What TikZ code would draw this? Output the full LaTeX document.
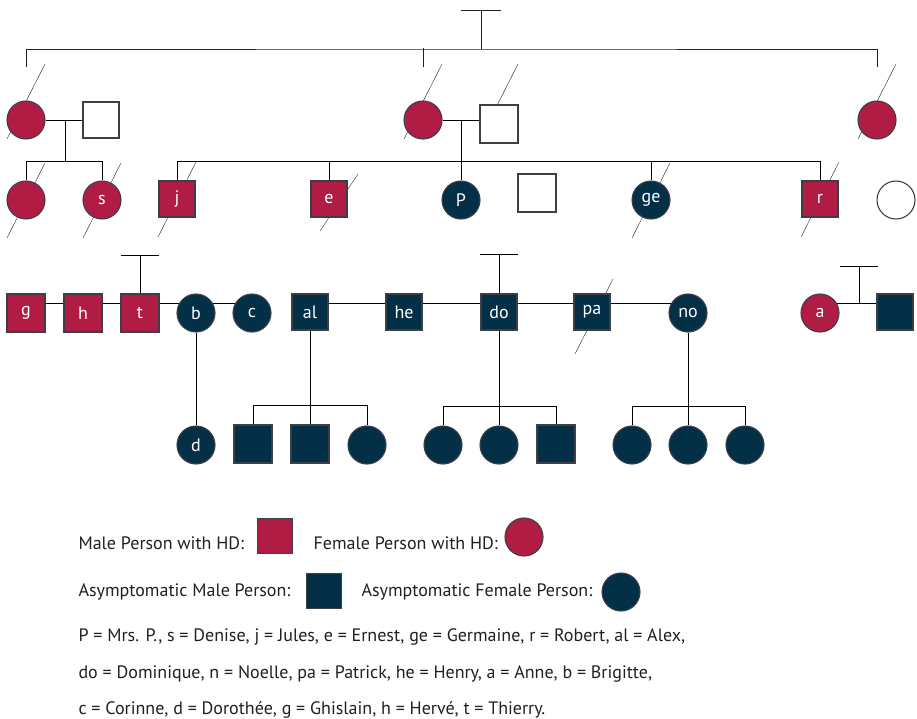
\documentclass[tikz,border=0pt]{standalone}
\usepackage{fontspec}
\setmainfont{PT Sans}
\usepackage{tikz}
\usepackage{xcolor}
\usetikzlibrary{backgrounds}
\definecolor{hdred}{RGB}{176,28,68}
\definecolor{nodark}{RGB}{3,48,71}
\definecolor{kin}{RGB}{60,64,70}
\definecolor{ink}{RGB}{35,31,32}

\begin{document}
\begin{tikzpicture}
	[x=1pt, y=-1pt, line width=1.1pt, draw=kin, font=\fontsize{18}{21}\selectfont,
	 male/.style = {draw, rectangle, minimum size=36pt, inner sep=0pt, text=white},
	 female/.style = {draw, circle, minimum size=38pt, inner sep=0pt, text=white},
	 hd/.style = {fill=hdred},
	 ok/.style = {fill=nodark},
	 blank/.style = {fill=white},
	 legend/.style = {anchor=west, text=ink, inner sep=0pt}]
	\useasboundingbox (0,0) rectangle (917,718);
	% generation I
	\node[female, hd] (gmL) at (26,120) {};
	\node[male, blank] (gfL) at (101,120) {};
	\node[female, hd] (gmM) at (423,120) {};
	\node[male, blank, minimum size=38pt] (gfM) at (499,124) {};
	\node[female, hd] (gmR) at (877,120) {};
	% generation II
	\node[female, hd] (c1) at (26,200) {};
	\node[female, hd] (s) at (102,200) {s};
	\node[male, hd] (j) at (177,199) {j};
	\node[male, hd] (e) at (329,199) {e};
	\node[female, ok] (P) at (461,200) {P};
	\node[male, blank, minimum size=38pt] (sp) at (537,193) {};
	\node[female, ok] (ge) at (651,200) {ge};
	\node[male, hd] (r) at (820,199) {r};
	\node[female, blank] (wr) at (896,200) {};
	% generation III
	\node[male, hd, minimum size=38pt] (g) at (26,313) {g};
	\node[male, hd, minimum size=38pt] (h) at (83,313) {h};
	\node[male, hd, minimum size=38pt] (t) at (140,313) {t};
	\node[female, ok] (b) at (196,313) {b};
	\node[female, ok] (c) at (252,313) {c};
	\node[male, ok] (al) at (310,312) {al};
	\node[male, ok] (he) at (404,312) {he};
	\node[male, ok] (do) at (499,312) {do};
	\node[male, ok] (pa) at (592,312) {pa};
	\node[female, ok] (no) at (688,313) {no};
	\node[female, hd] (a) at (820,313) {a};
	\node[male, ok] (ah) at (895,312) {};
	% generation IV
	\node[female, ok] (d) at (196,445) {d};
	\node[male, ok, minimum size=38pt] (k1) at (253,444) {};
	\node[male, ok, minimum size=38pt] (k2) at (310,444) {};
	\node[female, ok] (k3) at (367,445) {};
	\node[female, ok] (k4) at (443,445) {};
	\node[female, ok] (k5) at (499,445) {};
	\node[male, ok, minimum size=38pt] (k6) at (556,444) {};
	\node[female, ok] (k7) at (632,445) {};
	\node[female, ok] (k8) at (688,445) {};
	\node[female, ok] (k9) at (745,445) {};
	% legend
	\node[legend] (lmale) at (78,543) {Male Person with HD:};
	\node[male, hd, minimum size=35pt] (kmale) at (275,536) {};
	\node[legend] (lfem) at (313,543) {Female Person with HD:};
	\node[female, hd] (kfem) at (524,537) {};
	\node[legend] (amale) at (78,592) {Asymptomatic Male Person:};
	\node[male, ok, minimum size=35pt] (kamale) at (324,591) {};
	\node[legend] (afem) at (361,592) {Asymptomatic Female Person:};
	\node[female, ok] (kafem) at (621,592) {};
	\node[legend] (names1) at (78,637) {P = Mrs. P., s = Denise, j = Jules, e = Ernest, ge = Germaine, r = Robert, al = Alex,};
	\node[legend] (names2) at (78,674) {do = Dominique, n = Noelle, pa = Patrick, he = Henry, a = Anne, b = Brigitte,};
	\node[legend] (names3) at (78,710) {c = Corinne, d = Dorothée, g = Ghislain, h = Hervé, t = Thierry.};

	\begin{pgfonlayer}{background}
	% founders
	\coordinate (top) at (481,10);
	\draw[ink] ([xshift=-20pt]top) -- ([xshift=20pt]top);
	\draw[ink] (top) -- ++(0,39) coordinate (fl);
	\draw[ink] ([yshift=33pt]gmL.north) |- (fl) -| ([yshift=33pt]gmR.north);
	\draw[ink] ([yshift=33pt]gmM.north) -- ++(0,-19);
	% couples and children
	\draw (gmL) -- (gfL) coordinate[pos=0.52] (mL);
	\draw (mL) -- ++(0,42);
	\draw (c1.north) -- ++(0,-19) -| (s.north);
	\draw (gmM) -- (gfM.west |- gmM) coordinate[pos=0.5] (mM);
	\draw (mM) -- (P);
	\draw (j.north) -- ++(0,-19) -| (r.north);
	\draw (e.north) -- ++(0,-19);
	\draw (ge.north) -- ++(0,-19);
	\draw ([yshift=10pt]g.center) -- ([yshift=10pt]c.center);
	\draw ([yshift=9pt]al.center) -- ([yshift=10pt]no.center);
	\draw ([yshift=10pt]a.center) -- coordinate[pos=0.52] (aT) ([yshift=9pt]ah.center);
	\draw (t.north) -- ++(0,-38) coordinate (tT);
	\draw ([xshift=-19pt]tT) -- ([xshift=19pt]tT);
	\draw (do.north) -- ++(0,-39) coordinate (doT);
	\draw ([xshift=-19pt]doT) -- ([xshift=19pt]doT);
	\draw (aT) -- ++(0,-37) coordinate (aTop);
	\draw ([xshift=-19pt]aTop) -- ([xshift=19pt]aTop);
	\draw (b) -- (d);
	\draw (al) -- (k2);
	\draw (k1.north) -- ++(0,-19) -| (k3.north);
	\draw (do) -- (k5);
	\draw (k4.north) -- ++(0,-19) -| (k6.north);
	\draw (no) -- (k8);
	\draw (k7.north) -- ++(0,-19) -| (k9.north);
	% deceased
	\foreach \n in {gmL, gmM, gmR}
		\draw[ink] ([shift={(19,-56)}]\n.center) -- ([shift={(-19,19)}]\n.center);
	\draw[ink] ([shift={(19,-60)}]gfM.center) -- ([shift={(-15,7)}]gfM.center);
	\foreach \n in {c1, s, j, ge, r}
		\draw[ink] ([shift={(19,-37)}]\n.center) -- ([shift={(-19,38)}]\n.center);
	\draw[ink] ([shift={(29,-25)}]e.center) -- ([shift={(-9,32)}]e.center);
	\draw[ink] ([shift={(21,-33)}]pa.center) -- ([shift={(-17,42)}]pa.center);
	\end{pgfonlayer}
\end{tikzpicture}
\end{document}
